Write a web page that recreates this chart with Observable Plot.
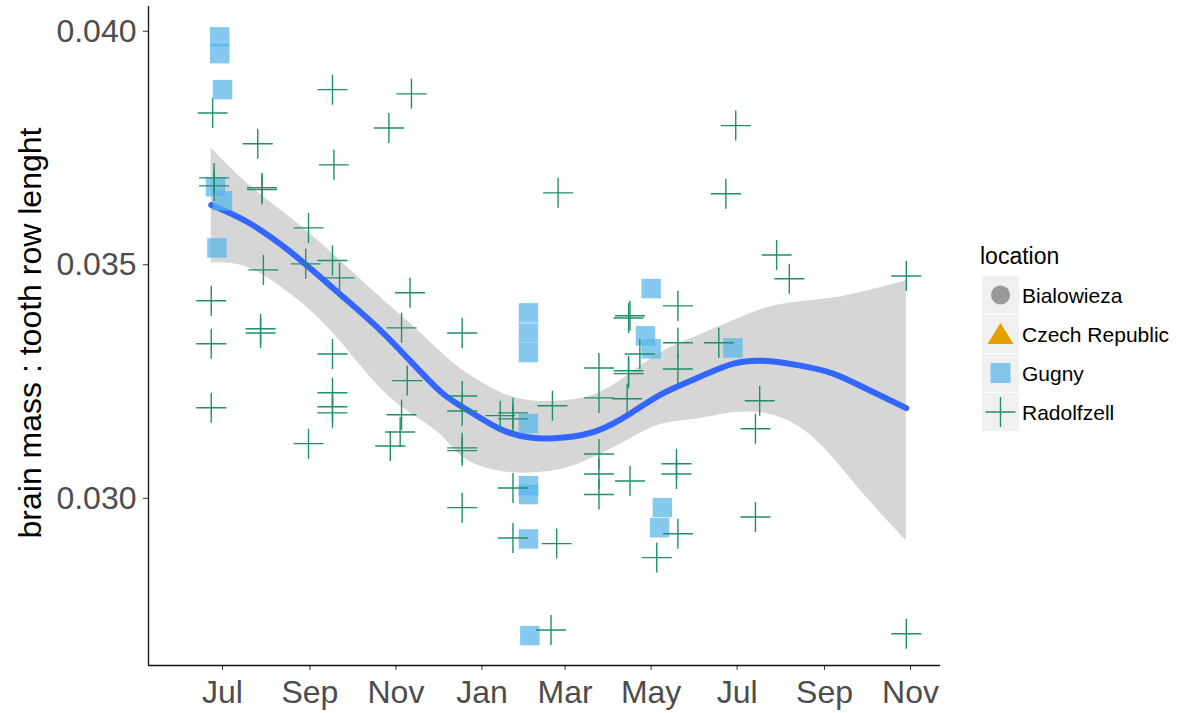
<!DOCTYPE html>
<html>
<head>
<meta charset="utf-8">
<script src="https://cdn.jsdelivr.net/npm/d3@7"></script>
<script src="https://cdn.jsdelivr.net/npm/@observablehq/plot@0.6"></script>
<style>
  body { margin: 0; background: #fff; font-family: "Liberation Sans", Arial, sans-serif; }
  #wrap { position: relative; width: 1177px; height: 713px; overflow: hidden; }
  svg.chart { position: absolute; left: 0; top: 0; }
  svg.key { position: absolute; left: 960px; top: 230px; }
</style>
</head>
<body>
<div id="wrap"></div>
<script>
// Gugny samples: collection date and brain mass : tooth row length
const gugnyDates = [
  "2016-06-29", "2016-06-29", "2016-07-01", "2016-06-26", "2016-07-01", "2016-06-27",
  "2017-02-03", "2017-02-03", "2017-02-03", "2017-02-03", "2017-02-03", "2017-02-03",
  "2017-02-03", "2017-02-04", "2017-05-01", "2017-04-27", "2017-05-01", "2017-05-09",
  "2017-05-07", "2017-06-28"
];
const gugnyValues = [
  0.03988, 0.03952, 0.03875, 0.03667, 0.03637, 0.03536,
  0.03397, 0.03354, 0.03312, 0.03160, 0.03027, 0.03008,
  0.02913, 0.02706, 0.03449, 0.03348, 0.03320, 0.02980,
  0.02937, 0.03322
];

// Radolfzell samples
const radolfzellDates = [
  "2016-06-24", "2016-06-25", "2016-06-25", "2016-06-23", "2016-06-23", "2016-06-23",
  "2016-07-26", "2016-07-29", "2016-07-29", "2016-07-30", "2016-07-28", "2016-07-28",
  "2016-08-31", "2016-08-29", "2016-08-31",
  "2016-09-17", "2016-09-18", "2016-09-17", "2016-09-22", "2016-09-17", "2016-09-17", "2016-09-17", "2016-09-17",
  "2016-11-12", "2016-10-27", "2016-11-11", "2016-11-05", "2016-11-09", "2016-11-05", "2016-11-04", "2016-10-28",
  "2016-12-18", "2016-12-18", "2016-12-18", "2016-12-18", "2016-12-18", "2016-12-18",
  "2017-01-14", "2017-01-23", "2017-01-23", "2017-01-23", "2017-01-23",
  "2017-02-24", "2017-02-20", "2017-02-23", "2017-02-19",
  "2017-03-25", "2017-03-25", "2017-03-25", "2017-03-25", "2017-03-25",
  "2017-04-16", "2017-04-15", "2017-04-23", "2017-04-15", "2017-04-15", "2017-04-14", "2017-04-16",
  "2017-05-20", "2017-05-20", "2017-05-20", "2017-05-20", "2017-05-19", "2017-05-19", "2017-05-05",
  "2017-06-30", "2017-06-23", "2017-06-18",
  "2017-07-17", "2017-07-14", "2017-07-14", "2017-07-29", "2017-08-07",
  "2017-10-29", "2017-10-29"
];
const radolfzellValues = [
  0.03825, 0.03686, 0.03669, 0.03423, 0.03331, 0.03194,
  0.03759, 0.03665, 0.03661, 0.03489, 0.03363, 0.03354,
  0.03579, 0.03502, 0.03117,
  0.03875, 0.03714, 0.03509, 0.03472, 0.03309, 0.03226, 0.03196, 0.03183,
  0.03866, 0.03793, 0.03440, 0.03365, 0.03252, 0.03179, 0.03142, 0.03112,
  0.03354, 0.03219, 0.03187, 0.03108, 0.03102, 0.02980,
  0.03177, 0.03183, 0.03170, 0.03022, 0.02915,
  0.03654, 0.03198, 0.02903, 0.02718,
  0.03279, 0.03215, 0.03095, 0.03052, 0.03008,
  0.03391, 0.03386, 0.03309, 0.03273, 0.03267, 0.03213, 0.03037,
  0.03412, 0.03333, 0.03277, 0.02924, 0.03074, 0.03052, 0.02873,
  0.03798, 0.03652, 0.03333,
  0.03209, 0.03149, 0.02960, 0.03521, 0.03470,
  0.03476, 0.02710
];

// LOESS fit over all samples with its 95% confidence band
const smoothDates = [
  "2016-06-23", "2016-07-19", "2016-08-18", "2016-09-17", "2016-10-16", "2016-11-09",
  "2016-12-02", "2016-12-19", "2017-01-12", "2017-02-04", "2017-02-28", "2017-03-24",
  "2017-04-16", "2017-05-09", "2017-06-03", "2017-06-28", "2017-07-22", "2017-08-15",
  "2017-09-07", "2017-10-01", "2017-10-29"
];
const smoothFit = [
  0.03628, 0.03591, 0.03528, 0.03451, 0.03374, 0.03301,
  0.03230, 0.03194, 0.03151, 0.03130, 0.03130, 0.03145,
  0.03181, 0.03224, 0.03258, 0.03288, 0.03294, 0.03284,
  0.03267, 0.03234, 0.03193
];
const smoothLow = [
  0.03504, 0.03494, 0.03438, 0.03355, 0.03252, 0.03187,
  0.03138, 0.03087, 0.03059, 0.03054, 0.03063, 0.03091,
  0.03127, 0.03159, 0.03170, 0.03183, 0.03181, 0.03151,
  0.03087, 0.03001, 0.02909
];
const smoothHigh = [
  0.03750, 0.03673, 0.03601, 0.03524, 0.03444, 0.03380,
  0.03316, 0.03273, 0.03230, 0.03209, 0.03209, 0.03224,
  0.03267, 0.03314, 0.03348, 0.03380, 0.03408, 0.03421,
  0.03429, 0.03444, 0.03466
];

// Axis ticks and ranges
const xTicks = [
  "2016-07-01", "2016-09-01", "2016-11-01", "2017-01-01", "2017-03-01",
  "2017-05-01", "2017-07-01", "2017-09-01", "2017-11-01"
];
const xDomain = ["2016-05-09T12:00:00Z", "2017-11-22T06:00:00Z"];
const yTicks = [0.030, 0.035, 0.040];
const yDomain = [0.02642, 0.04053];

// Legend entries
const locations = ["Bialowieza", "Czech Republic", "Gugny", "Radolfzell"];
const locationColors = ["#999999", "#E69F00", "#56B4E9", "#009E73"];

const FONT = '"Liberation Sans", Arial, sans-serif';
const PLUS_COLOR = "#1f8f6c";
const toDate = (s) => new Date(s);

const gugny = gugnyDates.map((d, i) => ({ date: toDate(d), value: gugnyValues[i] }));
const radolfzell = radolfzellDates.map((d, i) => ({ date: toDate(d), value: radolfzellValues[i] }));
const smooth = smoothDates.map((d, i) => ({
  date: toDate(d), fit: smoothFit[i], lo: smoothLow[i], hi: smoothHigh[i]
}));

const chart = Plot.plot({
  width: 1177,
  height: 713,
  marginLeft: 148,
  marginRight: 237,
  marginTop: 6,
  marginBottom: 48,
  className: "chart",
  style: { fontFamily: FONT, background: "white", overflow: "visible" },
  x: { type: "utc", domain: xDomain.map(toDate) },
  y: { domain: yDomain },
  marks: [
    // confidence band and fitted curve
    Plot.areaY(smooth, { x: "date", y1: "lo", y2: "hi", fill: "#999999", fillOpacity: 0.4, curve: "natural" }),
    Plot.lineY(smooth, { x: "date", y: "fit", stroke: "#3366FF", strokeWidth: 6, curve: "natural" }),
    // samples
    Plot.dot(gugny, {
      x: "date", y: "value", symbol: "square", r: 11,
      fill: locationColors[2], fillOpacity: 0.72, stroke: "none"
    }),
    Plot.dot(radolfzell, {
      x: "date", y: "value", symbol: "plus", r: 9.7,
      stroke: PLUS_COLOR, strokeWidth: 1.4, fill: "none"
    }),
    // axes
    Plot.axisX({
      ticks: xTicks.map(toDate), tickFormat: d3.utcFormat("%b"),
      tickSize: 5, tickPadding: 10, fontSize: 32, fill: "#4d4d4d", stroke: "#333333",
      label: null
    }),
    Plot.axisY({
      ticks: yTicks, tickFormat: d3.format(".3f"),
      tickSize: 5, tickPadding: 7, fontSize: 32, fill: "#4d4d4d", stroke: "#333333",
      label: null
    }),
    Plot.ruleX([yDomain[0]], { x: () => toDate(xDomain[0]), y1: yDomain[0], y2: yDomain[1], stroke: "#111", strokeWidth: 1.3 }),
    Plot.ruleY([yDomain[0]], { x1: toDate(xDomain[0]), x2: toDate(xDomain[1]), stroke: "#111", strokeWidth: 1.3 }),
    Plot.text(["brain mass : tooth row lenght"], {
      frameAnchor: "left", textAnchor: "middle", rotate: -90,
      dx: -118, dy: -3, fontSize: 32, fill: "black"
    })
  ]
});

const wrap = document.getElementById("wrap");
wrap.appendChild(chart);

// Legend for the location shapes
const legend = d3.select(wrap).append("svg")
  .attr("class", "key")
  .attr("width", 217).attr("height", 210)
  .style("position", "absolute").style("left", "960px").style("top", "230px")
  .style("font-family", FONT);

legend.append("text")
  .attr("x", 20).attr("y", 34)
  .attr("font-size", 23).attr("fill", "black")
  .text("location");

const rowY = [65, 104, 143, 182];
locations.forEach((name, i) => {
  const cy = rowY[i];
  const g = legend.append("g");
  g.append("rect")
    .attr("x", 22).attr("y", cy - 19).attr("width", 37).attr("height", 38)
    .attr("fill", "#f0f0f0");
  const cx = 40.5;
  if (i === 0) {
    g.append("circle").attr("cx", cx).attr("cy", cy).attr("r", 9.5).attr("fill", locationColors[0]);
  } else if (i === 1) {
    g.append("path")
      .attr("d", `M${cx},${cy - 11}L${cx + 13},${cy + 10}L${cx - 13},${cy + 10}Z`)
      .attr("fill", locationColors[1]);
  } else if (i === 2) {
    g.append("rect")
      .attr("x", cx - 10).attr("y", cy - 10).attr("width", 20).attr("height", 20)
      .attr("fill", locationColors[2]).attr("fill-opacity", 0.72);
  } else {
    g.append("path")
      .attr("d", `M${cx - 15},${cy}H${cx + 15}M${cx},${cy - 15}V${cy + 15}`)
      .attr("stroke", PLUS_COLOR).attr("stroke-width", 1.4).attr("fill", "none");
  }
  g.append("text")
    .attr("x", 62).attr("y", cy + 7.5)
    .attr("font-size", 21).attr("fill", "black")
    .text(name);
});
</script>
</body>
</html>
